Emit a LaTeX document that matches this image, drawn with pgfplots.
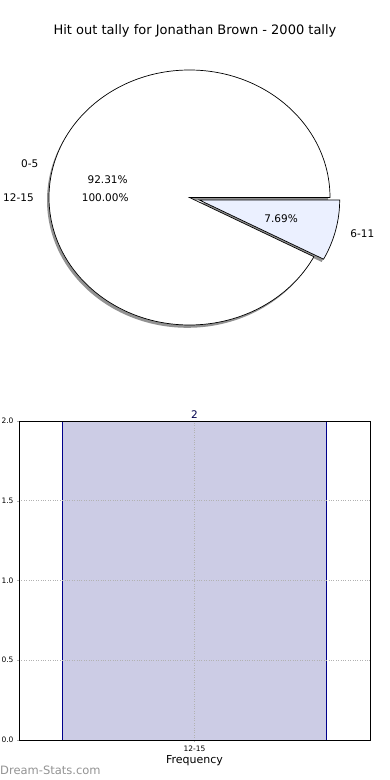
\documentclass[border=0pt]{standalone}
\usepackage{fontspec}
\setmainfont{DejaVu Sans}
\usepackage{pgfplots}
\pgfplotsset{compat=1.18}
\definecolor{wedgeblue}{RGB}{235,240,255}
\definecolor{barfill}{RGB}{204,204,229}
\definecolor{baredge}{RGB}{0,0,139}
\definecolor{shadowgray}{RGB}{110,110,110}
\begin{document}
\begin{tikzpicture}
\useasboundingbox (0pt,0pt) rectangle (390pt,780pt);
% title
\node[font=\fontsize{13}{15}\selectfont] at (195pt,749pt) {Hit out tally for Jonathan Brown - 2000 tally};
% pie: values 12 (0-5), 1 (6-11)
\pgfmathsetmacro\angA{360*12/13}
\pgfmathsetmacro\angB{360-\angA}
\begin{axis}[at={(49pt,455pt)}, anchor=south west, width=281pt, height=255pt,
  scale only axis, hide axis, clip=false,
  xmin=-1, xmax=1, ymin=-1, ymax=1]
  % shadows
  \fill[shadowgray, opacity=0.75] (axis cs:-0.014,-0.022) -- ++(0:140.5pt and 127.5pt)
     arc[start angle=0, end angle=\angA, x radius=140.5pt, y radius=127.5pt] -- cycle;
  \fill[shadowgray, opacity=0.75] (axis cs:0.055,-0.041) -- ++(0:140.5pt and 127.5pt)
     arc[start angle=0, end angle=-\angB, x radius=140.5pt, y radius=127.5pt] -- cycle;
  % main slice 0-5
  \filldraw[fill=white, draw=black, line width=0.7pt] (axis cs:0,0) -- ++(0:140.5pt and 127.5pt)
     arc[start angle=0, end angle=\angA, x radius=140.5pt, y radius=127.5pt] -- cycle;
  % exploded slice 6-11
  \filldraw[fill=wedgeblue, draw=black, line width=0.7pt] (axis cs:0.069,-0.019) -- ++(0:140.5pt and 127.5pt)
     arc[start angle=0, end angle=-\angB, x radius=140.5pt, y radius=127.5pt] -- cycle;
  % labels
  \node[anchor=east, inner sep=1pt, font=\fontsize{10.5}{12}\selectfont] at (axis cs:-1.068,0.263) {0-5};
  \node[font=\fontsize{10.5}{12}\selectfont] at (axis cs:-0.5826,0.1436) {92.31\%};
  \node[anchor=east, inner sep=1pt, font=\fontsize{10.5}{12}\selectfont] at (axis cs:-1.1,0) {12-15};
  \node[font=\fontsize{10.5}{12}\selectfont] at (axis cs:-0.6,0) {100.00\%};
  \node[anchor=west, inner sep=1pt, font=\fontsize{10.5}{12}\selectfont] at (axis cs:1.137,-0.282) {6-11};
  \node[font=\fontsize{10.5}{12}\selectfont] at (axis cs:0.652,-0.163) {7.69\%};
\end{axis}
% bar chart
\begin{axis}[at={(19pt,40pt)}, anchor=south west, width=351pt, height=319pt,
  scale only axis, axis on top,
  xmin=-0.5, xmax=0.5, ymin=0, ymax=2,
  xtick={0}, xticklabels={12-15},
  ytick={0,0.5,1,1.5,2},
  yticklabel style={/pgf/number format/fixed, /pgf/number format/fixed zerofill, /pgf/number format/precision=1},
  /pgf/number format/assume math mode=true,
  tick label style={font=\fontsize{7.5}{8}\selectfont},
  tick align=outside, major tick length=2pt,
  xtick pos=left, ytick pos=left,
  tick style={gray!60},
  grid=major, major grid style={gray!60, dotted, line width=0.8pt},
  axis line style={black, line width=0.8pt},
  xlabel={Frequency}, xlabel style={font=\fontsize{11}{12}\selectfont, yshift=3pt}]
  \addplot[ybar, bar width=0.752, fill=barfill, draw=baredge, line width=0.7pt,
    nodes near coords, nodes near coords style={font=\fontsize{10.5}{12}\selectfont, text=black!70!blue, yshift=-1pt}]
    coordinates {(0,2)};
\end{axis}
\node[anchor=west, text=gray!85, font=\fontsize{11.5}{13}\selectfont, inner sep=0pt] at (0pt,10pt) {Dream-Stats.com};
\end{tikzpicture}
\end{document}
